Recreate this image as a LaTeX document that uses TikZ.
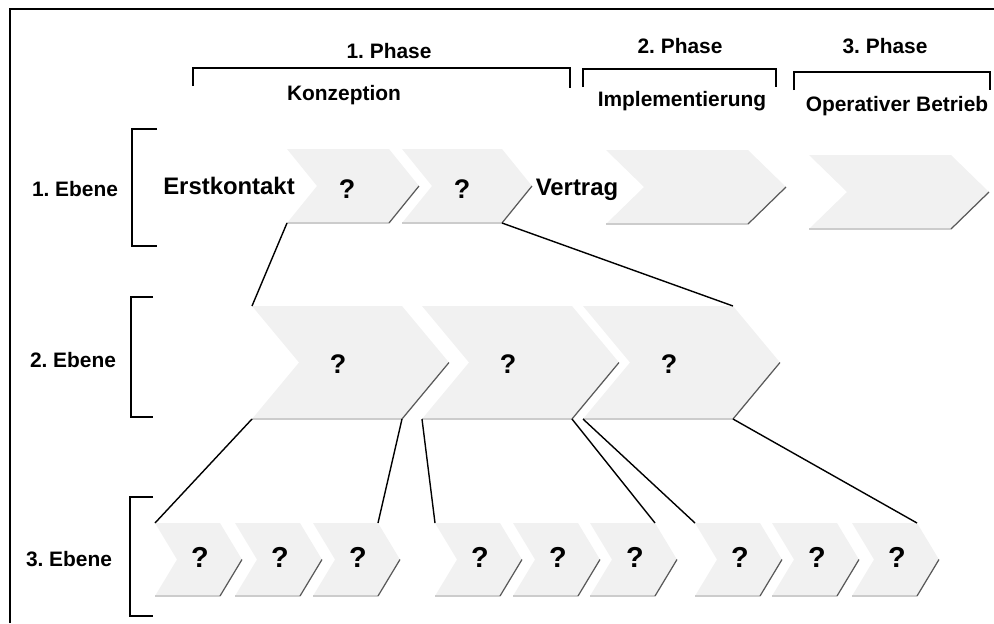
\documentclass[tikz,border=0pt]{standalone}
\usepackage{fontspec}
\setmainfont{Liberation Sans}
\usepackage{tikz}
\usetikzlibrary{calc}
\frenchspacing

\definecolor{chevgrau}{RGB}{241,241,241}

\begin{document}
\begin{tikzpicture}[x=0.02cm,y=-0.02cm,
        chev/.style={fill=chevgrau},
        boden/.style={draw=gray!40,line width=1pt},
        kante/.style={draw=gray!70!black,line width=0.7pt},
        klammer/.style={line width=0.8pt},
        linie/.style={line width=0.8pt},
        titel/.style={font=\bfseries\fontsize{11.9}{14}\selectfont,anchor=base,inner sep=0pt},
        gross/.style={font=\bfseries\fontsize{13.6}{16}\selectfont,anchor=base,inner sep=0pt},
        frage/.style={font=\bfseries\fontsize{#1}{18}\selectfont,anchor=base,inner sep=0pt},
        frage/.default=15.3]
    \useasboundingbox (0,0) rectangle (994,623);
    % Rahmen
    \draw[line width=1.1pt] (10,623) -- (10,9) -- (994,9);

    % Phasen
    \node[titel] (phase1) at (389,58) {1. Phase};
    \node[titel] (phase2) at (680,53) {2. Phase};
    \node[titel] (phase3) at (885,53) {3. Phase};
    \draw[klammer] (193,86) -- (193,68) -- (570,68) -- (570,88);
    \draw[klammer] (583,87) -- (583,69) -- (776,69) -- (776,87);
    \draw[klammer] (794,90) -- (794,72) -- (990,72) -- (990,90);
    \node[titel] (konzeption) at (344,100) {Konzeption};
    \node[titel] (implementierung) at (682,106) {Implementierung};
    \node[titel] (betrieb) at (897,111) {Operativer Betrieb};

    % Ebenen
    \node[titel] (ebene1) at (75,196) {1. Ebene};
    \node[titel] (ebene2) at (73,367) {2. Ebene};
    \node[titel] (ebene3) at (69,566) {3. Ebene};
    \draw[klammer] (157,129) -- (132,129) -- (132,246) -- (157,246);
    \draw[klammer] (153,297) -- (131,297) -- (131,417) -- (153,417);
    \draw[klammer] (153,497) -- (130,497) -- (130,616) -- (153,616);

    % 1. Ebene
    \foreach \n/\px/\breite/\spitze/\oben in {1/287/102/30/149,2/402/100/30/149,3/606/142/38/150,4/809/142/38/155} {
        \fill[chev] (\px,\oben) -- ++(\breite,0) -- ++(\spitze,37) -- ++(-\spitze,37)
            -- ++(-\breite,0) -- ++(\spitze,-37) -- cycle;
        \draw[boden] (\px,\oben+74) -- ++(\breite,0);
        \draw[kante] (\px+\breite,\oben+74) -- ++(\spitze,-37);
        \coordinate (e1-\n-sw) at (\px,\oben+74);
        \coordinate (e1-\n-se) at (\px+\breite,\oben+74);
    }
    \node[gross] (erstkontakt) at (229,194) {Erstkontakt};
    \node[gross] (vertrag) at (577,195) {Vertrag};
    \node[frage] (q1-1) at (347,198) {?};
    \node[frage] (q1-2) at (462,198) {?};

    % 2. Ebene
    \foreach \n/\px in {1/252,2/422,3/583} {
        \fill[chev] (\px,306) -- ++(150,0) -- ++(47,56.5) -- ++(-47,56.5)
            -- ++(-150,0) -- ++(47,-56.5) -- cycle;
        \draw[boden] (\px,419) -- ++(150,0);
        \draw[kante] (\px+150,419) -- ++(47,-56.5);
        \coordinate (e2-\n-nw) at (\px,306);
        \coordinate (e2-\n-ne) at (\px+150,306);
        \coordinate (e2-\n-sw) at (\px,419);
        \coordinate (e2-\n-se) at (\px+150,419);
        \node[frage] (q2-\n) at (\px+86,373) {?};
    }

    % 3. Ebene
    \foreach \n/\px in {1/155,2/235,3/313,4/435,5/513,6/590,7/695,8/772,9/852} {
        \fill[chev] (\px,523) -- ++(65,0) -- ++(22,36.5) -- ++(-22,36.5)
            -- ++(-65,0) -- ++(22,-36.5) -- cycle;
        \draw[boden] (\px,596) -- ++(65,0);
        \draw[kante] (\px+65,596) -- ++(22,-36.5);
        \coordinate (e3-\n-nw) at (\px,523);
        \coordinate (e3-\n-ne) at (\px+65,523);
        \node[frage=16.4] (q3-\n) at (\px+45,567) {?};
    }

    % Verbindungen
    \draw[linie] (e1-1-sw) -- (e2-1-nw);
    \draw[linie] (e1-2-se) -- (e2-3-ne);
    \draw[linie] (e2-1-sw) -- (e3-1-nw);
    \draw[linie] (e2-1-se) -- (e3-3-ne);
    \draw[linie] (e2-2-sw) -- (e3-4-nw);
    \draw[linie] (e2-2-se) -- (e3-6-ne);
    \draw[linie] (e2-3-sw) -- (e3-7-nw);
    \draw[linie] (e2-3-se) -- (e3-9-ne);
\end{tikzpicture}
\end{document}
